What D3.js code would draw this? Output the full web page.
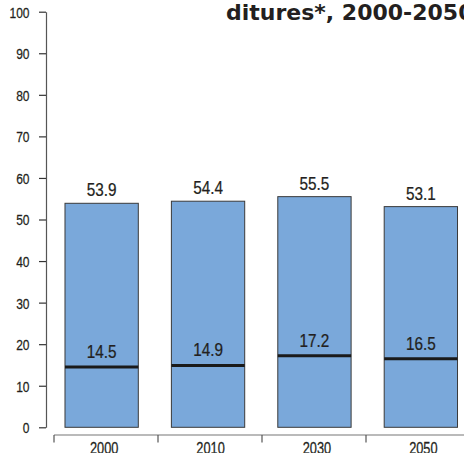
<!DOCTYPE html>
<html>
<head>
<meta charset="utf-8">
<script src="https://cdn.jsdelivr.net/npm/d3@7"></script>
<style>
  html, body { margin: 0; padding: 0; background: #fff; }
  svg { display: block; }
</style>
</head>
<body>
<svg id="chart" width="464" height="453"></svg>
<script>
const categories = ["2000", "2010", "2030", "2050"];
const totalValues = [53.9, 54.4, 55.5, 53.1];
const innerValues = [14.5, 14.9, 17.2, 16.5];
const yTicks = [0, 10, 20, 30, 40, 50, 60, 70, 80, 90, 100];
const titleText = "ditures*, 2000-2050";

const svg = d3.select("#chart");
const sans = "'Liberation Sans', Arial, sans-serif";
const textColor = "#231f20";

const y = d3.scaleLinear().domain([0, 100]).range([427.3, 11.7]);
const x = d3.scaleBand().domain(categories).range([31.9, 490.6]).padding(0.311);
const xTickScale = d3.scaleBand().domain(categories).range([54, 470]);

// condensed text helper: place text at (px,py), horizontally squeezed
function condensed(sel, px, py, sx) {
  sel.attr("x", 0).attr("y", 0)
     .attr("stroke", textColor).attr("stroke-width", 0.25)
     .attr("transform", (d, i) => `translate(${px(d, i)},${py(d, i)}) scale(${sx},1)`);
}

// Title (clipped)
svg.append("text")
  .attr("x", 226).attr("y", 19.5)
  .attr("font-family", "'DejaVu Sans', sans-serif")
  .attr("font-weight", "bold")
  .attr("font-size", 22)
  .attr("fill", textColor)
  .text(titleText);

// Y axis
const yAxis = d3.axisLeft(y).tickValues(yTicks).tickSize(7).tickSizeOuter(0);
const yg = svg.append("g").attr("transform", "translate(46,0)").call(yAxis);
yg.select(".domain").attr("stroke", "#555").attr("stroke-width", 1.2);
yg.selectAll(".tick line").attr("stroke", "#333").attr("stroke-width", 1.2);
yg.selectAll(".tick text")
  .attr("font-family", sans).attr("font-size", 15).attr("fill", textColor)
  .attr("dy", "0.36em")
  .call(condensed, () => -16.5, () => 0, 0.8);

// Bars
const bars = svg.append("g");
bars.selectAll("rect").data(categories).join("rect")
  .attr("x", d => x(d))
  .attr("y", (d, i) => y(totalValues[i]))
  .attr("width", x.bandwidth())
  .attr("height", (d, i) => y(0) - y(totalValues[i]))
  .attr("fill", "#7aa8da")
  .attr("stroke", "#3a3a3a")
  .attr("stroke-width", 1);

// Inner lines
bars.selectAll("line.inner").data(categories).join("line")
  .attr("class", "inner")
  .attr("x1", d => x(d))
  .attr("x2", d => x(d) + x.bandwidth())
  .attr("y1", (d, i) => y(innerValues[i]))
  .attr("y2", (d, i) => y(innerValues[i]))
  .attr("stroke", "#1a1a1a")
  .attr("stroke-width", 3);

// Total labels
svg.selectAll("text.total").data(categories).join("text")
  .attr("class", "total")
  .attr("text-anchor", "middle")
  .attr("font-family", sans).attr("font-size", 18).attr("fill", textColor)
  .text((d, i) => totalValues[i].toFixed(1))
  .call(condensed, d => x(d) + x.bandwidth() / 2, (d, i) => y(totalValues[i]) - 7, 0.85);

// Inner labels
svg.selectAll("text.innerlab").data(categories).join("text")
  .attr("class", "innerlab")
  .attr("text-anchor", "middle")
  .attr("font-family", sans).attr("font-size", 18).attr("fill", textColor)
  .text((d, i) => innerValues[i].toFixed(1))
  .call(condensed, d => x(d) + x.bandwidth() / 2, (d, i) => y(innerValues[i]) - 9, 0.85);

// X axis line + boundary ticks
const xg = svg.append("g");
xg.append("line")
  .attr("x1", xTickScale.range()[0]).attr("x2", 464)
  .attr("y1", 435).attr("y2", 435)
  .attr("stroke", "#777").attr("stroke-width", 1.2);
xg.selectAll("line.xt").data(categories).join("line")
  .attr("class", "xt")
  .attr("x1", d => xTickScale(d)).attr("x2", d => xTickScale(d))
  .attr("y1", 435).attr("y2", 442.5)
  .attr("stroke", "#555").attr("stroke-width", 1.2);
xg.selectAll("text").data(categories).join("text")
  .attr("text-anchor", "middle")
  .attr("font-family", sans).attr("font-size", 16).attr("fill", textColor)
  .text(d => d)
  .call(condensed, d => x(d) + x.bandwidth() / 2 + 2.5, () => 453.5, 0.8);
</script>
</body>
</html>
